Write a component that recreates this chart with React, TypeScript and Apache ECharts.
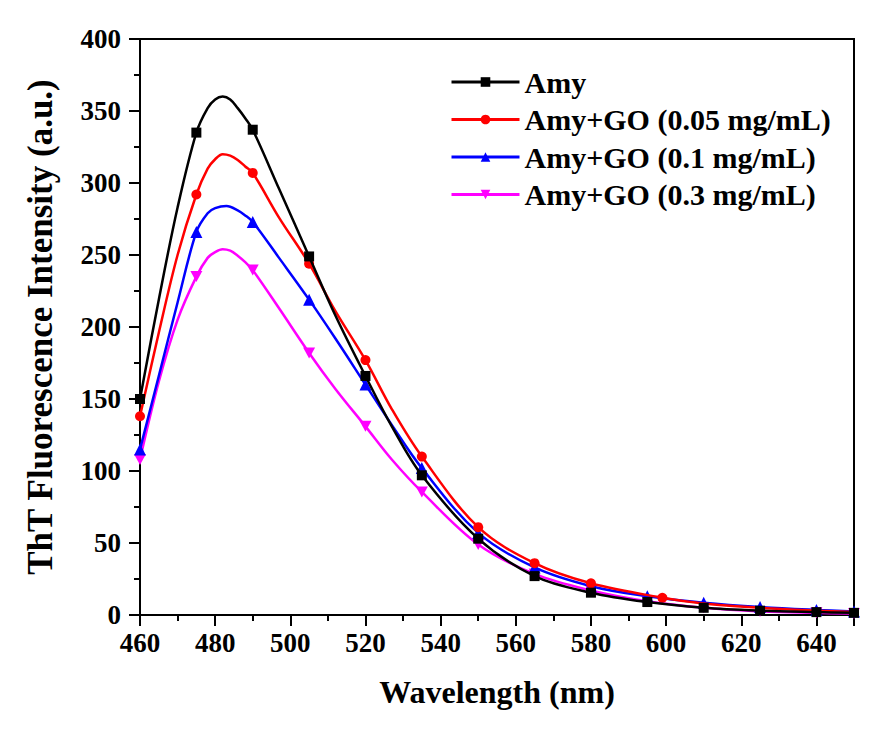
import React, { useEffect, useRef } from "react";
import * as echarts from "echarts";

const seriesNames = [
  "Amy",
  "Amy+GO (0.05 mg/mL)",
  "Amy+GO (0.1 mg/mL)",
  "Amy+GO (0.3 mg/mL)",
];

const amyWl = [460, 465, 470, 475, 478, 480, 482, 484, 486, 488, 490, 497, 505, 512, 520, 527, 535, 550, 565, 580, 595, 610, 625, 640, 650];
const amyVal = [150, 219, 283, 335, 352, 358, 360, 358, 352, 345, 337, 296, 249, 208, 166, 131, 97, 53, 27, 15.5, 9, 5, 3, 2, 1.5];
const amyMarkers = [460, 475, 490, 505, 520, 535, 550, 565, 580, 595, 610, 625, 640, 650];

const go005Wl = [460, 465, 470, 475, 478, 480, 482, 484, 486, 488, 490, 497, 505, 512, 520, 527, 535, 550, 565, 580, 599, 610, 625, 640, 650];
const go005Val = [138, 196, 250, 292, 310, 316.5, 320, 319, 316, 311.5, 307, 276, 244, 211, 177, 143, 110, 61, 36, 22, 12, 8, 5, 3, 2];
const go005Markers = [460, 475, 490, 505, 520, 535, 550, 565, 580, 599];

const go01Wl = [460, 465, 470, 475, 478, 480, 483, 486, 488, 490, 497, 505, 512, 520, 527, 535, 550, 565, 580, 595, 610, 625, 640, 650];
const go01Val = [115, 166, 217, 266, 279, 282.5, 284, 281, 277.5, 273, 248, 219, 192, 160, 132, 102, 57, 33, 20, 13, 8.5, 5.5, 3.5, 2.5];
const go01Markers = [460, 475, 490, 505, 520, 535, 550, 565, 580, 595, 610, 625, 640, 650];

const go03Wl = [460, 465, 470, 475, 478, 480, 482, 484, 486, 488, 490, 497, 505, 512, 520, 527, 535, 550, 565, 580, 595, 610, 625, 640, 650];
const go03Val = [108, 162, 205, 235, 248, 252, 254, 253, 249.5, 245, 239.5, 213, 182, 157, 131, 108, 85.5, 49, 28.5, 17, 9.5, 5, 2.5, 1.5, 1];
const go03Markers = [460, 475, 490, 505, 520, 535, 550, 565, 580, 595, 610, 625, 640, 650];

const colors = ["#000000", "#ff0000", "#0000ff", "#ff00ff"];
const symbols = ["rect", "circle", "triangle", "path://M0,0 L10,0 L5,9 Z"];
const symbolSizes = [10, 10, 12, [12, 11]];

const FONT = "'Times New Roman', 'Liberation Serif', serif";

function buildData(wl: number[], vals: number[], markers: number[]) {
  return wl.map((x, i) => {
    const item: any = { value: [x, vals[i]] };
    if (!markers.includes(x)) item.symbol = "none";
    return item;
  });
}

export default function App() {
  const ref = useRef<HTMLDivElement>(null);
  useEffect(() => {
    if (!ref.current) return;
    const chart = echarts.init(ref.current, undefined, { renderer: "svg" });
    const datasets = [
      buildData(amyWl, amyVal, amyMarkers),
      buildData(go005Wl, go005Val, go005Markers),
      buildData(go01Wl, go01Val, go01Markers),
      buildData(go03Wl, go03Val, go03Markers),
    ];
    chart.setOption({
      animation: false,
      backgroundColor: "#ffffff",
      grid: {
        left: 140,
        right: 21,
        top: 39,
        bottom: 116,
        show: true,
        borderColor: "#000",
        borderWidth: 2,
        backgroundColor: "transparent",
      },
      legend: {
        orient: "vertical",
        left: 445,
        top: 62,
        itemWidth: 68,
        itemHeight: 12,
        itemGap: 7.5,
        lineStyle: { width: 3 },
        textStyle: {
          fontFamily: FONT,
          fontWeight: "bold",
          fontSize: 30,
          lineHeight: 30,
          color: "#000",
        },
        data: seriesNames,
      },
      xAxis: {
        type: "value",
        min: 460,
        max: 650,
        interval: 20,
        name: "Wavelength (nm)",
        nameLocation: "middle",
        nameGap: 61,
        nameTextStyle: {
          fontFamily: FONT,
          fontWeight: "bold",
          fontSize: 32,
          color: "#000",
        },
        axisLine: { show: true, lineStyle: { color: "#000", width: 2 } },
        axisTick: { show: true, length: 11, lineStyle: { color: "#000", width: 2 } },
        minorTick: { show: true, splitNumber: 2, length: 6, lineStyle: { color: "#000", width: 2 } },
        axisLabel: {
          margin: 14,
          fontFamily: FONT,
          fontWeight: "bold",
          fontSize: 27,
          color: "#000",
          showMaxLabel: false,
          formatter: (v: number) => (v === 650 ? "" : String(v)),
        },
        splitLine: { show: false },
      },
      yAxis: {
        type: "value",
        min: 0,
        max: 400,
        interval: 50,
        name: "ThT Fluorescence Intensity (a.u.)",
        nameLocation: "middle",
        nameGap: 82,
        nameTextStyle: {
          fontFamily: FONT,
          fontWeight: "bold",
          fontSize: 35,
          color: "#000",
        },
        axisLine: { show: true, lineStyle: { color: "#000", width: 2 } },
        axisTick: { show: true, length: 11, lineStyle: { color: "#000", width: 2 } },
        minorTick: { show: true, splitNumber: 2, length: 6, lineStyle: { color: "#000", width: 2 } },
        axisLabel: {
          margin: 19,
          fontFamily: FONT,
          fontWeight: "bold",
          fontSize: 27,
          color: "#000",
        },
        splitLine: { show: false },
      },
      series: seriesNames.map((name, i) => ({
        name,
        type: "line",
        data: datasets[i],
        smooth: 0.35,
        symbol: symbols[i],
        symbolSize: symbolSizes[i],
        showAllSymbol: true,
        clip: true,
        z: 10 - i,
        lineStyle: { color: colors[i], width: 2.5 },
        itemStyle: { color: colors[i] },
      })),
    });
    return () => chart.dispose();
  }, []);
  return (
    <div
      ref={ref}
      style={{ position: "fixed", left: 0, top: 0, width: 875, height: 731, background: "#fff" }}
    />
  );
}
